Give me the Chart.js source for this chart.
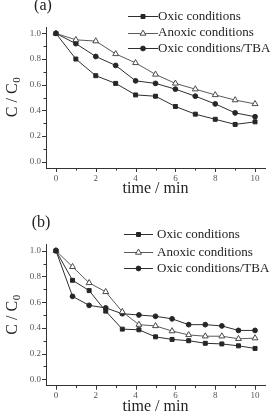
<!DOCTYPE html>
<html><head><meta charset="utf-8">
<script src="https://cdn.jsdelivr.net/npm/chart.js@4"></script>
<style>
html,body{margin:0;padding:0;background:#fff;overflow:hidden;width:270px;height:413px;position:relative}
canvas{position:absolute;left:0}
</style></head><body>
<canvas id="ca" width="270" height="200" style="top:0;width:270px;height:200px"></canvas>
<canvas id="cb" width="270" height="210" style="top:210px;width:270px;height:210px"></canvas>
<script>
const seriesLabels = ['Oxic conditions', 'Anoxic conditions', 'Oxic conditions/TBA'];
// panel (a)
const timeA   = [0, 1, 2, 3, 4, 5, 6, 7, 8, 9, 10];
const oxicA   = [1.0, 0.80, 0.67, 0.61, 0.52, 0.51, 0.43, 0.37, 0.33, 0.29, 0.31];
const anoxicA = [1.0, 0.95, 0.94, 0.84, 0.77, 0.68, 0.61, 0.565, 0.52, 0.48, 0.45];
const tbaA    = [1.0, 0.92, 0.82, 0.75, 0.63, 0.61, 0.565, 0.51, 0.45, 0.38, 0.35];
// panel (b)
const timeB   = [0, 0.833, 1.667, 2.5, 3.333, 4.167, 5, 5.833, 6.667, 7.5, 8.333, 9.167, 10];
const oxicB   = [1.0, 0.77, 0.69, 0.53, 0.39, 0.385, 0.33, 0.31, 0.30, 0.28, 0.275, 0.26, 0.24];
const anoxicB = [1.0, 0.875, 0.75, 0.68, 0.525, 0.425, 0.415, 0.375, 0.345, 0.335, 0.335, 0.315, 0.32];
const tbaB    = [1.0, 0.645, 0.575, 0.555, 0.51, 0.50, 0.49, 0.47, 0.425, 0.425, 0.415, 0.38, 0.38];
// ticks & titles
const xTicks = [0, 2, 4, 6, 8, 10];
const yTicks = [0.0, 0.2, 0.4, 0.6, 0.8, 1.0];
const panelLabels = ['(a)', '(b)'];
const xTitle = 'time / min';
const yTitleMain = 'C / C';
const yTitleSub = '0';

const SERIF = '"Liberation Serif", "Times New Roman", serif';
const styles = [
  {pointStyle: 'rect', radius: 2.8, fill: '#262626', stroke: '#262626', line: '#2e2e2e'},
  {pointStyle: 'triangle', radius: 3.4, fill: '#ffffff', stroke: '#4a4a4a', line: '#5a5a5a'},
  {pointStyle: 'circle', radius: 2.4, fill: '#262626', stroke: '#262626', line: '#2e2e2e'}
];

function drawMarker(ctx, st, x, y) {
  ctx.save();
  ctx.fillStyle = st.fill; ctx.strokeStyle = st.stroke; ctx.lineWidth = 1;
  ctx.beginPath();
  const r = st.radius;
  if (st.pointStyle === 'rect') {
    const s = r * Math.SQRT1_2;
    ctx.rect(x - s, y - s, 2 * s, 2 * s);
  } else if (st.pointStyle === 'circle') {
    ctx.arc(x, y, r, 0, Math.PI * 2);
  } else {
    ctx.moveTo(x, y - r);
    ctx.lineTo(x + r * Math.cos(Math.PI / 6), y + r * 0.5);
    ctx.lineTo(x - r * Math.cos(Math.PI / 6), y + r * 0.5);
    ctx.closePath();
  }
  ctx.fill(); ctx.stroke();
  ctx.restore();
}

const decoPlugin = {
  id: 'deco',
  afterDraw(chart, args, o) {
    const ctx = chart.ctx, xs = chart.scales.x, ys = chart.scales.y, ca = chart.chartArea;
    ctx.save();
    // tick marks (major + minor), outward
    ctx.strokeStyle = '#333'; ctx.lineWidth = 1;
    ctx.beginPath();
    const xv = xs.ticks.map(t => t.value);
    xv.forEach((v, i) => {
      const p = Math.round(xs.getPixelForValue(v)) + 0.5;
      ctx.moveTo(p, ca.bottom); ctx.lineTo(p, ca.bottom + 4);
      if (i < xv.length - 1) {
        const m = Math.round(xs.getPixelForValue((v + xv[i + 1]) / 2)) + 0.5;
        ctx.moveTo(m, ca.bottom); ctx.lineTo(m, ca.bottom + 2.5);
      }
    });
    const yv = ys.ticks.map(t => t.value);
    yv.forEach((v, i) => {
      const p = Math.round(ys.getPixelForValue(v)) + 0.5;
      ctx.moveTo(ca.left, p); ctx.lineTo(ca.left - 4, p);
      if (i < yv.length - 1) {
        const m = Math.round(ys.getPixelForValue((v + yv[i + 1]) / 2)) + 0.5;
        ctx.moveTo(ca.left, m); ctx.lineTo(ca.left - 2.5, m);
      }
    });
    ctx.stroke();

    // y title with subscript
    ctx.fillStyle = '#222';
    ctx.translate(o.yTitleX, (ca.top + ca.bottom) / 2);
    ctx.rotate(-Math.PI / 2);
    ctx.font = '16px ' + SERIF;
    const w1 = ctx.measureText(yTitleMain).width;
    ctx.font = '11px ' + SERIF;
    const w2 = ctx.measureText(yTitleSub).width;
    const start = -(w1 + w2) / 2;
    ctx.textBaseline = 'alphabetic'; ctx.textAlign = 'left';
    ctx.font = '16px ' + SERIF;
    ctx.fillText(yTitleMain, start, 0);
    ctx.font = '11px ' + SERIF;
    ctx.fillText(yTitleSub, start + w1 + 0.5, 3);
    ctx.setTransform(1, 0, 0, 1, 0, 0);

    // panel label
    ctx.font = '16px ' + SERIF;
    ctx.textAlign = 'center'; ctx.textBaseline = 'middle';
    ctx.fillStyle = '#222';
    ctx.fillText(o.label, o.labelX, o.labelY);

    // legend
    ctx.font = '13px ' + SERIF;
    ctx.textAlign = 'left'; ctx.textBaseline = 'middle';
    chart.data.datasets.forEach((ds, i) => {
      const y = o.rows[i];
      const st = styles[i];
      ctx.strokeStyle = st.line; ctx.lineWidth = 1;
      ctx.beginPath();
      ctx.moveTo(o.lx1, Math.round(y) + 0.5); ctx.lineTo(o.lx2, Math.round(y) + 0.5);
      ctx.stroke();
      drawMarker(ctx, st, (o.lx1 + o.lx2) / 2, Math.round(y) + 0.5);
      ctx.fillStyle = '#222';
      ctx.fillText(ds.label, o.tx, y + 0.5);
    });
    ctx.restore();
  }
};

function makeChart(id, time, series, deco, padTop, xAxisH, titlePadBottom) {
  const datasets = series.map((vals, i) => ({
    label: seriesLabels[i],
    data: time.map((t, k) => ({x: t, y: vals[k]})),
    borderColor: styles[i].line,
    borderWidth: 1,
    pointStyle: styles[i].pointStyle,
    pointRadius: styles[i].radius,
    pointBackgroundColor: styles[i].fill,
    pointBorderColor: styles[i].stroke,
    pointBorderWidth: 1,
    tension: 0,
    fill: false
  }));
  return new Chart(document.getElementById(id), {
    type: 'line',
    data: {datasets},
    plugins: [decoPlugin],
    options: {
      responsive: false, animation: false, devicePixelRatio: 1,
      layout: {padding: {top: padTop, right: 1.25, bottom: 0, left: 0}},
      plugins: {legend: {display: false}, tooltip: {enabled: false}, deco},
      scales: {
        x: {
          type: 'linear', min: -0.5, max: 10.5,
          afterBuildTicks: s => { s.ticks = xTicks.map(v => ({value: v})); },
          afterFit: s => { s.height = xAxisH; },
          grid: {display: false, drawTicks: false, tickLength: 0},
          border: {display: true, color: '#333', width: 1},
          ticks: {font: {family: SERIF, size: 9}, color: '#555', padding: 5, maxRotation: 0,
                  callback: v => String(v)},
          title: {display: true, text: xTitle, font: {family: SERIF, size: 16}, color: '#222',
                  padding: {top: 0, bottom: titlePadBottom}}
        },
        y: {
          type: 'linear', min: -0.05, max: 1.05,
          afterBuildTicks: s => { s.ticks = yTicks.map(v => ({value: v})); },
          afterFit: s => { s.width = 46; },
          grid: {display: false, drawTicks: false, tickLength: 0},
          border: {display: true, color: '#333', width: 1},
          ticks: {font: {family: SERIF, size: 9}, color: '#555', padding: 5,
                  callback: v => Number(v).toFixed(1)}
        }
      }
    }
  });
}

makeChart('ca', timeA, [oxicA, anoxicA, tbaA],
  {label: panelLabels[0], labelX: 43, labelY: 6, lx1: 128, lx2: 158, tx: 158, rows: [16, 32.5, 48], yTitleX: 16.5},
  27, 32, 1.4);
makeChart('cb', timeB, [oxicB, anoxicB, tbaB],
  {label: panelLabels[1], labelX: 41, labelY: 13, lx1: 124, lx2: 153, tx: 157, rows: [24.3, 41.7, 58.3], yTitleX: 16.5},
  34.3, 34.3, 3.7);
</script>
</body></html>
